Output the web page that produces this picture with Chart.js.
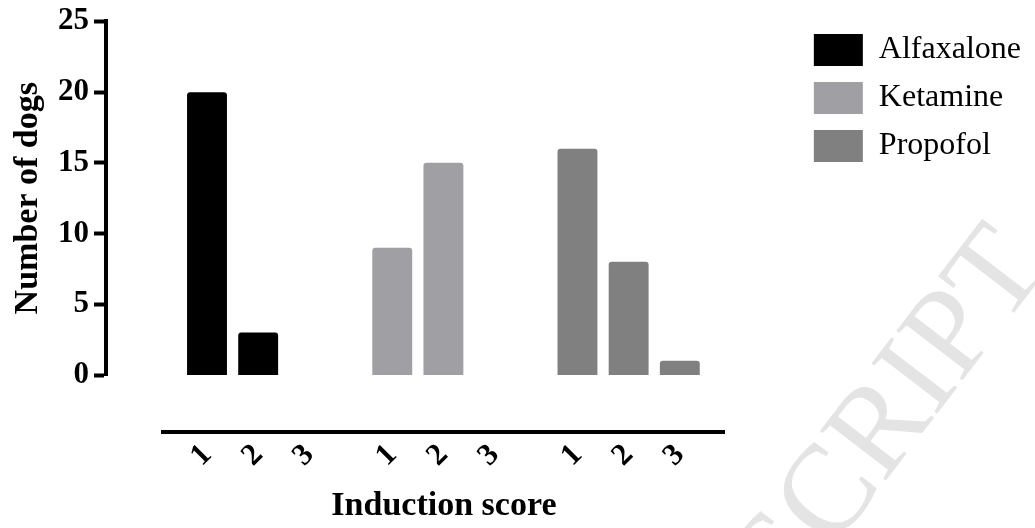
<!DOCTYPE html>
<html>
<head>
<meta charset="utf-8">
<title>Induction score</title>
<script src="https://cdn.jsdelivr.net/npm/chart.js@4.4.0/dist/chart.umd.min.js"></script>
<style>
  html, body { margin: 0; padding: 0; background: #fff; }
  #wrap { width: 1035px; height: 528px; }
</style>
</head>
<body>
<div id="wrap"><canvas id="dogsChart"></canvas></div>
<script>
// data
const drugs = ['Alfaxalone', 'Ketamine', 'Propofol']
const scores = ['1', '2', '3']
const alfaxalone = [20, 3, 0]
const ketamine = [9, 15, 0]
const propofol = [16, 8, 1]
const yTicks = [0, 5, 10, 15, 20, 25]

const drugColors = ['#000000', '#a0a0a4', '#808080']
const serif = "'Liberation Serif', 'Times New Roman', serif"

// bars of one drug sit side by side, groups are spaced by a small gap
const groupGap = 0.62
const slot = (g, s) => g * (scores.length + groupGap) + s
const positions = []
drugs.forEach((d, g) => scores.forEach((sc, s) => positions.push(slot(g, s))))
const xMin = -0.86
const xMax = slot(drugs.length - 1, scores.length - 1) + 0.88

const seriesValues = [alfaxalone, ketamine, propofol]

const datasets = drugs.map((name, g) => ({
  label: name,
  data: seriesValues[g].map((v, s) => ({ x: slot(g, s), y: v })),
  backgroundColor: drugColors[g],
  borderWidth: 0,
  borderRadius: 3,
  grouped: false,
  barPercentage: 0.78,
  categoryPercentage: 1
}))

// hidden axes that only take room, so the visible axes look detached
const spacer = (pos, size, extra) => Object.assign({
  type: 'linear',
  position: pos,
  weight: 0,
  display: false,
  offset: false,
  grid: { offset: false },
  afterFit: (s) => {
    if (pos === 'bottom') s.height = size
    else s.width = size
  }
}, extra)

const watermark = {
  id: 'watermark',
  beforeDraw(chart) {
    const ctx = chart.ctx
    ctx.save()
    ctx.translate(1049, 267)
    ctx.rotate(-52.6 * Math.PI / 180)
    ctx.font = '126px ' + serif
    ctx.fillStyle = '#e4e4e4'
    ctx.textAlign = 'right'
    ctx.textBaseline = 'alphabetic'
    ctx.fillText('ACCEPTED MANUSCRIPT', 0, 0)
    ctx.restore()
  }
}

Chart.defaults.font.family = serif
Chart.defaults.color = '#000'

new Chart(document.getElementById('dogsChart'), {
  type: 'bar',
  data: { datasets },
  plugins: [watermark],
  options: {
    responsive: true,
    maintainAspectRatio: false,
    animation: false,
    layout: { padding: { top: 18, right: 4, bottom: 0, left: 0 } },
    plugins: {
      tooltip: { enabled: false },
      legend: {
        position: 'right',
        align: 'start',
        labels: {
          boxWidth: 49,
          boxHeight: 32,
          padding: 16,
          color: '#000',
          font: { family: serif, size: 32 }
        }
      }
    },
    scales: {
      x: spacer('bottom', 57, {
        min: xMin,
        max: xMax,
        afterBuildTicks: (s) => { s.ticks = positions.map(v => ({ value: v })) }
      }),
      xAxis: {
        type: 'linear',
        position: 'bottom',
        weight: 1,
        min: xMin,
        max: xMax,
        offset: false,
        grid: { display: false, drawTicks: false },
        border: { display: true, color: '#000', width: 4 },
        afterBuildTicks: (s) => { s.ticks = positions.map(v => ({ value: v })) },
        ticks: {
          autoSkip: false,
          minRotation: 45,
          maxRotation: 45,
          padding: 5,
          color: '#000',
          font: { family: serif, size: 31, weight: 'bold' },
          callback: (v, i) => scores[i % scores.length]
        },
        title: {
          display: true,
          text: 'Induction score',
          color: '#000',
          font: { family: serif, size: 34, weight: 'bold' },
          padding: { top: 0, bottom: 1 }
        },
        afterFit: (s) => { s.height = 96 }
      },
      y: spacer('left', 57, { min: 0, max: 25 }),
      yAxis: {
        type: 'linear',
        position: 'left',
        weight: 1,
        min: 0,
        max: 25,
        afterBuildTicks: (s) => { s.ticks = yTicks.map(v => ({ value: v })) },
        grid: {
          display: true,
          drawOnChartArea: false,
          drawTicks: true,
          tickLength: 12,
          tickWidth: 4,
          color: '#000',
          tickColor: '#000'
        },
        border: { display: true, color: '#000', width: 4 },
        ticks: {
          padding: 5,
          color: '#000',
          font: { family: serif, size: 31, weight: 'bold', lineHeight: 1.06 }
        },
        title: {
          display: true,
          text: 'Number of dogs',
          color: '#000',
          font: { family: serif, size: 34, weight: 'bold' },
          padding: { top: 8, bottom: 0 }
        },
        afterFit: (s) => { s.width = 106 }
      },
      yRight: spacer('right', 73, { min: 0, max: 1 })
    }
  }
})
</script>
</body>
</html>
